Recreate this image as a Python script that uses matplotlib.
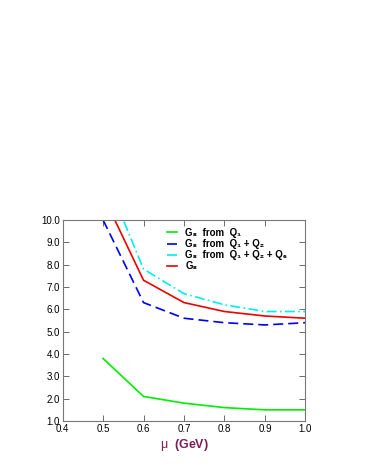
import matplotlib
matplotlib.use('Agg')
import matplotlib.pyplot as plt
from matplotlib.ticker import FormatStrFormatter

mu = [0.5, 0.6, 0.7, 0.8, 0.9, 1.0]
g8_q1 = [3.8, 2.1, 1.8, 1.6, 1.5, 1.5]
g8_q12 = [10.0, 6.3, 5.6, 5.4, 5.3, 5.4]
g8_q126 = [12.2, 7.8, 6.7, 6.2, 5.9, 5.9]
g8 = [11.1, 7.3, 6.3, 5.9, 5.7, 5.6]

plt.rcParams['font.family'] = ['Liberation Sans', 'DejaVu Sans']
plt.rcParams['mathtext.fontset'] = 'custom'
plt.rcParams['mathtext.rm'] = 'Liberation Sans'

fig = plt.figure(figsize=(3.68, 4.76), dpi=100)
ax = fig.add_axes([0.170, 0.1155, 0.660, 0.4225])

ax.plot(mu, g8_q1, color='#00ee00', lw=1.2, label='G₈  from  Q₁')
ax.plot(mu, g8_q12, color='#0000ee', lw=1.2, ls=(0, (6, 3)), label='G₈  from  Q₁ + Q₂')
ax.plot(mu, g8_q126, color='#00eeee', lw=1.2, ls=(0, (6, 2, 1, 2)), label='G₈  from  Q₁ + Q₂ + Q₆')
ax.plot(mu, g8, color='#ee0000', lw=1.2, label='G₈')

ax.set_xlim(0.4, 1.0)
ax.set_ylim(1.0, 10.0)
ax.set_xticks([0.4, 0.5, 0.6, 0.7, 0.8, 0.9, 1.0])
ax.set_yticks([1, 2, 3, 4, 5, 6, 7, 8, 9, 10])
ax.xaxis.set_major_formatter(FormatStrFormatter('%.1f'))
ax.yaxis.set_major_formatter(FormatStrFormatter('%.1f'))
ax.tick_params(direction='in', top=True, right=True, labelsize=7, length=4, width=0.6, color='#555555', pad=2)
for s in ax.spines.values():
    s.set_color('#777777')
    s.set_linewidth(0.8)

ax.set_xlabel(r'$\mathrm{\mu}$  (GeV)', color='#7a1f5c', fontsize=9, fontweight='bold', labelpad=2)

ax.legend(loc='upper left', frameon=False, prop={'weight': 'bold', 'size': 7},
          handlelength=1.1, handletextpad=0.85, labelspacing=0.13,
          bbox_to_anchor=(0.392, 1.005))

fig.savefig('out.png', dpi=100)
